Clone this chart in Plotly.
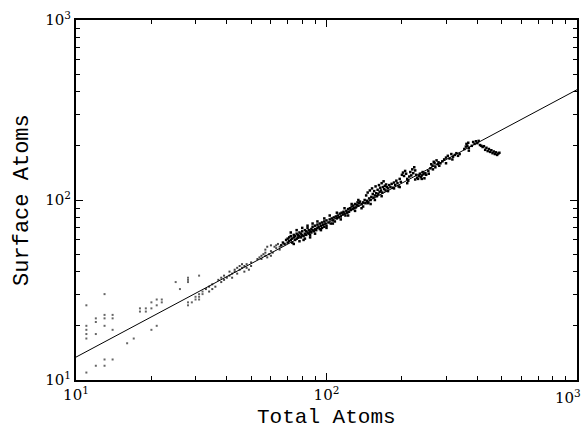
import plotly.graph_objects as go

# ---- data ----
sparse_x = [11, 11, 11, 11, 11, 11, 12, 12, 12, 12, 13, 13, 13, 13, 13, 13,
            14, 14, 14, 14, 16, 17, 18, 18, 19, 19, 20, 20, 20, 21, 21, 21,
            22, 22, 25, 26, 28, 28, 28, 28, 28, 29, 30, 30, 31, 31, 31, 31, 32, 32]
sparse_y = [26, 20, 19, 18, 17, 11, 22, 21, 18, 12, 30, 23, 22, 20, 13, 12,
            23, 22, 19, 13, 16, 17, 25, 24, 25, 24, 27, 25, 19, 28, 26, 20,
            28, 27, 35, 32, 37, 36, 35, 27, 26, 27, 29, 28, 38, 30, 29, 28, 31, 30]

mid_x = [33, 34, 34, 35, 35, 36, 37, 38, 38, 39, 39, 40, 41, 41, 42, 42, 43, 43, 44, 44,
         45, 45, 46, 46, 47, 47, 48, 48, 49, 50, 50,
         53, 54, 55, 55, 56, 57, 57, 58, 59, 60, 60, 61,
         57, 58, 60, 62, 63, 63, 64, 65, 65]
mid_y = [32, 33, 31, 32, 34, 33, 36, 35, 37, 38, 36, 37, 38, 40, 39, 37, 40, 41, 39, 42,
         41, 43, 42, 44, 40, 43, 44, 42, 41, 43, 45,
         47, 48, 49, 47, 50, 49, 51, 48, 50, 52, 49, 51,
         53, 55, 56, 55, 54, 56, 57, 55, 53]

dense_x = [66, 67, 68, 69, 70, 70, 71, 71, 72, 72, 73, 73, 74, 74, 75, 75, 76, 76, 77, 77,
           78, 78, 79, 79, 80, 80, 81, 81, 82, 82, 83, 83, 84, 84, 85, 85, 86, 86, 87, 87,
           88, 88, 89, 90, 90, 91, 92, 92, 93, 94, 94, 95, 96, 96, 97, 98, 98, 99, 100, 100,
           102, 103, 104, 105, 106, 107, 108, 109, 110, 111, 112, 113, 114, 115, 116, 117,
           118, 119, 120, 121, 122, 123, 124, 125, 126, 127, 128, 129, 130, 131, 132, 133,
           134, 135, 136,
           138, 140, 140, 142, 143, 144, 145, 146, 147, 148, 149, 150, 151, 152, 153, 154,
           155, 156, 157, 158, 159, 160, 161, 162, 163, 164, 165, 166, 167, 168, 169, 170,
           171, 172, 173, 174, 176, 178, 180, 182, 184, 186, 188, 190, 192, 194, 196, 198,
           200, 202, 204, 206, 208, 210, 212, 214, 216, 218, 220, 222, 224, 226, 228, 230,
           232, 234, 236, 238, 240, 242, 244, 246, 248, 250, 255, 260, 262, 265, 268, 270,
           272, 275, 278, 280, 285, 290, 295, 300, 305, 310, 315, 320, 325, 330, 335,
           355, 360, 362, 365, 368, 370, 380, 385, 390, 395, 400, 405, 410, 415, 420, 425,
           430, 435, 440, 445, 450, 455, 460, 465, 470, 475, 480, 485, 490]
dense_y = [56, 58, 57, 60, 58, 61, 59, 62, 60, 63, 58, 61, 62, 64, 60, 63, 61, 65, 62, 64,
           63, 66, 62, 65, 64, 67, 63, 60, 65, 68, 64, 67, 66, 70, 65, 68, 67, 64, 66, 69,
           68, 71, 67, 69, 72, 68, 70, 73, 71, 69, 74, 72, 70, 75, 73, 71, 76, 74, 72, 77,
           75, 78, 74, 79, 77, 80, 76, 81, 79, 82, 80, 84, 81, 85, 83, 86,
           84, 82, 87, 85, 89, 86, 90, 88, 92, 89, 93, 90, 95, 91, 94, 97,
           93, 96, 98,
           95, 97, 92, 100, 96, 106, 99, 110, 97, 102, 113, 100, 104, 116, 108, 103,
           112, 106, 119, 109, 105, 114, 108, 121, 111, 117, 113, 124, 110, 118, 127, 115,
           120, 113, 122, 118, 116, 121, 118, 123, 117, 125, 121, 128, 124, 119, 131, 126,
           138, 142, 136, 145, 140, 131, 128, 135, 143, 137, 148, 141, 152, 146, 138, 133,
           131, 136, 140, 134, 137, 143, 139, 132, 141, 138, 145, 150, 158, 155, 163, 160,
           152, 166, 158, 162, 160, 164, 168, 172, 176, 170, 180, 174, 178, 182, 176,
           192, 198, 205, 200, 208, 195, 200, 210, 205, 212, 207, 213, 202, 200, 197, 199,
           190, 195, 187, 192, 185, 189, 182, 186, 180, 184, 178, 181, 183]

spread_x = [72, 74, 76, 78, 80, 82, 84, 86, 88, 90, 92, 95, 98, 100, 103, 106, 110, 114,
            118, 122, 126, 130, 134, 138, 146, 150, 156, 166, 176, 186, 196, 210, 226, 240,
            256, 266, 282, 300, 318, 340, 370]
spread_y = [66, 57, 68, 59, 70, 61, 72, 62, 74, 65, 76, 68, 79, 70, 82, 74, 85, 78,
            90, 82, 95, 87, 100, 90, 96, 95, 100, 105, 112, 116, 118, 124, 130, 131,
            140, 148, 155, 160, 168, 180, 188]

fit_x = [10, 1000]
fit_y = [13.4, 410]

x_tick_vals = [10, 100]
x_tick_text = ["10<sup>1</sup>", "10<sup>2</sup>"]
x_end_label = "10<sup>3</sup>"
y_tick_vals = [10, 100, 1000]
y_tick_text = ["10<sup>1</sup>", "10<sup>2</sup>", "10<sup>3</sup>"]
minor_vals = [20, 30, 40, 50, 60, 70, 80, 90, 200, 300, 400, 500, 600, 700, 800, 900]

fig = go.Figure()
fig.add_trace(go.Scatter(x=sparse_x, y=sparse_y, mode="markers",
                         marker=dict(symbol="square", size=2, color="#666666", line=dict(width=0))))
fig.add_trace(go.Scatter(x=mid_x, y=mid_y, mode="markers",
                         marker=dict(symbol="square", size=2, color="#444444", line=dict(width=0))))
fig.add_trace(go.Scatter(x=dense_x, y=dense_y, mode="markers",
                         marker=dict(symbol="square", size=2.5, color="#000000", line=dict(width=0))))
fig.add_trace(go.Scatter(x=spread_x, y=spread_y, mode="markers",
                         marker=dict(symbol="square", size=2.5, color="#000000", line=dict(width=0))))
fig.add_trace(go.Scatter(x=fit_x, y=fit_y, mode="lines", line=dict(color="black", width=1)))

axis_common = dict(type="log", showgrid=False, zeroline=False, showline=True, linecolor="black",
                   linewidth=2, mirror="allticks", ticks="inside", ticklen=7, tickwidth=1,
                   tickcolor="black", automargin=False,
                   tickfont=dict(family="DejaVu Serif", size=15, color="black"),
                   minor=dict(ticks="inside", ticklen=4, tickwidth=1, tickcolor="black",
                              tickvals=minor_vals, showgrid=False))

fig.update_xaxes(range=[1, 3], tickvals=x_tick_vals + [1000], ticktext=x_tick_text + [""],
                 **axis_common)
fig.update_yaxes(range=[1, 3], tickvals=y_tick_vals, ticktext=y_tick_text, **axis_common)

fig.update_layout(
    template="none",
    width=583, height=433,
    margin=dict(l=76, r=6, t=20, b=53),
    paper_bgcolor="white", plot_bgcolor="white",
    showlegend=False,
    annotations=[
        dict(text=x_end_label, x=1.012, y=-0.015, xref="paper", yref="paper",
             xanchor="right", yanchor="top", showarrow=False,
             font=dict(family="DejaVu Serif", size=15, color="black")),
        dict(text="Total Atoms", x=0.5, y=-0.1417, xref="paper", yref="paper",
             xanchor="center", yanchor="bottom", showarrow=False,
             font=dict(family="Liberation Mono", size=21, color="black")),
        dict(text="Surface Atoms", x=-0.108, y=0.5, xref="paper", yref="paper",
             xanchor="center", yanchor="middle", textangle=-90, showarrow=False,
             font=dict(family="Liberation Mono", size=22, color="black")),
    ],
)

fig.write_html("out.html")
